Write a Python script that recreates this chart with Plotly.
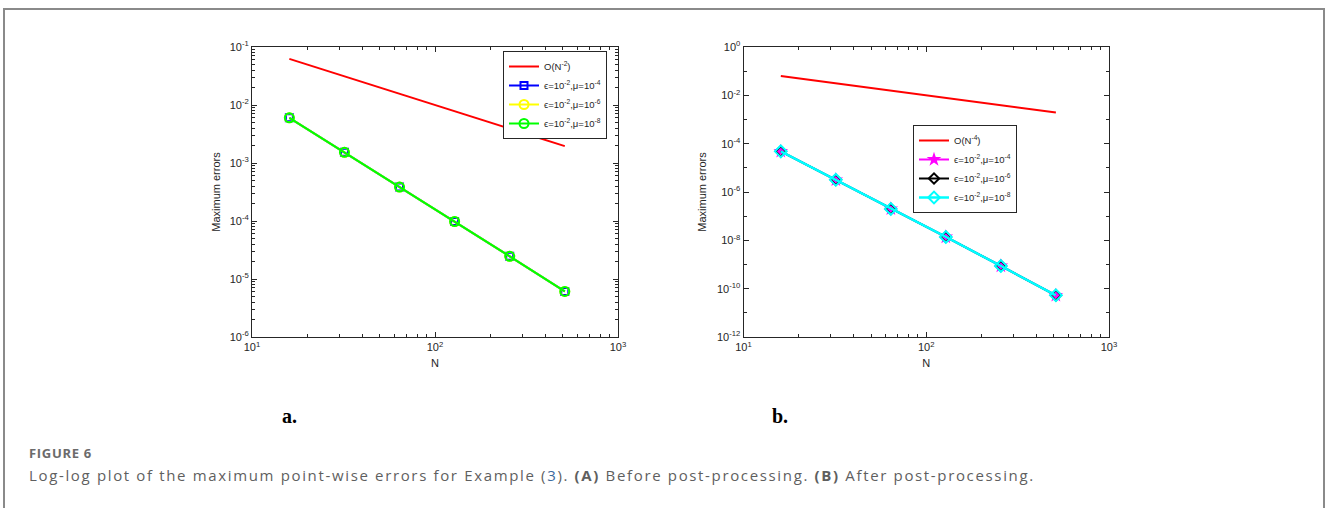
import plotly.graph_objects as go

# ---- data ----
N = [16, 32, 64, 128, 256, 512]
ref_a = [0.0625, 0.03125, 0.015625, 0.0078125, 0.00390625, 0.001953]
err_a_mu4 = [6.0e-3, 1.53e-3, 3.85e-4, 9.8e-5, 2.46e-5, 6.1e-6]
err_a_mu6 = [6.0e-3, 1.53e-3, 3.85e-4, 9.8e-5, 2.46e-5, 6.1e-6]
err_a_mu8 = [6.0e-3, 1.53e-3, 3.85e-4, 9.8e-5, 2.46e-5, 6.1e-6]
ref_b = [0.0625, 0.03125, 0.015625, 0.0078125, 0.00390625, 0.001953]
err_b_mu4 = [4.8e-5, 3.2e-6, 2.0e-7, 1.38e-8, 8.7e-10, 5.3e-11]
err_b_mu6 = [4.8e-5, 3.2e-6, 2.0e-7, 1.38e-8, 8.7e-10, 5.3e-11]
err_b_mu8 = [4.8e-5, 3.2e-6, 2.0e-7, 1.38e-8, 8.7e-10, 5.3e-11]

x_exps = [1, 2, 3]
ya_exps = [-6, -5, -4, -3, -2, -1]
yb_exps = [-12, -10, -8, -6, -4, -2, 0]

names_a = ["O(N<sup>-2</sup>)", "ϵ=10<sup>-2</sup>,μ=10<sup>-4</sup>",
           "ϵ=10<sup>-2</sup>,μ=10<sup>-6</sup>", "ϵ=10<sup>-2</sup>,μ=10<sup>-8</sup>"]
names_b = ["O(N<sup>-4</sup>)", "ϵ=10<sup>-2</sup>,μ=10<sup>-4</sup>",
           "ϵ=10<sup>-2</sup>,μ=10<sup>-6</sup>", "ϵ=10<sup>-2</sup>,μ=10<sup>-8</sup>"]

W, H = 1327, 508

fig = go.Figure()

# panel a
fig.add_trace(go.Scatter(x=N, y=ref_a, mode="lines", name=names_a[0],
                         line=dict(color="#ff0000", width=2), xaxis="x", yaxis="y", legend="legend"))
fig.add_trace(go.Scatter(x=N, y=err_a_mu4, mode="lines+markers", name=names_a[1],
                         line=dict(color="#0000ff", width=2),
                         marker=dict(symbol="square-open", size=7, color="#0000ff", line=dict(width=2)),
                         xaxis="x", yaxis="y", legend="legend"))
fig.add_trace(go.Scatter(x=N, y=err_a_mu6, mode="lines+markers", name=names_a[2],
                         line=dict(color="#ffff00", width=2),
                         marker=dict(symbol="circle-open", size=9, color="#ffff00", line=dict(width=2)),
                         xaxis="x", yaxis="y", legend="legend"))
fig.add_trace(go.Scatter(x=N, y=err_a_mu8, mode="lines+markers", name=names_a[3],
                         line=dict(color="#00ff00", width=2),
                         marker=dict(symbol="circle-open", size=9, color="#00ff00", line=dict(width=2)),
                         xaxis="x", yaxis="y", legend="legend"))

# panel b
fig.add_trace(go.Scatter(x=N, y=ref_b, mode="lines", name=names_b[0],
                         line=dict(color="#ff0000", width=2), xaxis="x2", yaxis="y2", legend="legend2"))
fig.add_trace(go.Scatter(x=N, y=err_b_mu4, mode="lines+markers", name=names_b[1],
                         line=dict(color="#ff00ff", width=2),
                         marker=dict(symbol="star", size=11, color="#ff00ff"),
                         xaxis="x2", yaxis="y2", legend="legend2"))
fig.add_trace(go.Scatter(x=N, y=err_b_mu6, mode="lines+markers", name=names_b[2],
                         line=dict(color="#000000", width=2),
                         marker=dict(symbol="diamond-open", size=8, color="#000000", line=dict(width=2)),
                         xaxis="x2", yaxis="y2", legend="legend2"))
fig.add_trace(go.Scatter(x=N, y=err_b_mu8, mode="lines+markers", name=names_b[3],
                         line=dict(color="#00ffff", width=2.5),
                         marker=dict(symbol="diamond-open", size=9, color="#00ffff", line=dict(width=2)),
                         xaxis="x2", yaxis="y2", legend="legend2"))


def minor_vals(lo, hi):
    vals = []
    for e in range(lo, hi):
        for m in range(2, 10):
            vals.append(m * 10 ** e)
    return vals


def pow_ticks(exps):
    return [10.0 ** e for e in exps], [f"10<sup>{e}</sup>" for e in exps]


tickfont = dict(family="Liberation Sans, Arial", size=11, color="#262626")
titlefont = dict(family="Liberation Sans, Arial", size=11, color="#262626")
common = dict(type="log", showline=True, linecolor="#262626", linewidth=1, mirror="ticks",
              ticks="inside", ticklen=5, tickcolor="#262626", showgrid=False, zeroline=False,
              tickfont=tickfont, tickmode="array", automargin=False)

ax_a = [252 / W, 618 / W]
ax_b = [743.5 / W, 1109 / W]
ydom = [1 - 337 / H, 1 - 47 / H]

xv, xt = pow_ticks(x_exps)
yav, yat = pow_ticks(ya_exps)
ybv, ybt = pow_ticks(yb_exps)

legfont = dict(family="Liberation Sans, Arial", size=9.5, color="#262626")

fig.update_layout(
    width=W, height=H,
    margin=dict(l=0, r=0, t=0, b=0, pad=0, autoexpand=False),
    paper_bgcolor="white", plot_bgcolor="white",
    xaxis=dict(domain=ax_a, range=[1, 3], tickvals=xv, ticktext=xt, anchor="y",
               minor=dict(ticks="inside", ticklen=3, tickcolor="#262626", tickvals=minor_vals(1, 3)),
               title=dict(text="N", font=titlefont, standoff=7), **common),
    yaxis=dict(domain=ydom, range=[-6, -1], tickvals=yav, ticktext=yat, anchor="x",
               minor=dict(ticks="inside", ticklen=3, tickcolor="#262626", tickvals=minor_vals(-6, -1)),
               title=dict(text="Maximum errors", font=titlefont, standoff=6), **common),
    xaxis2=dict(domain=ax_b, range=[1, 3], tickvals=xv, ticktext=xt, anchor="y2",
                minor=dict(ticks="inside", ticklen=3, tickcolor="#262626", tickvals=minor_vals(1, 3)),
                title=dict(text="N", font=titlefont, standoff=7), **common),
    yaxis2=dict(domain=ydom, range=[-12, 0], tickvals=ybv, ticktext=ybt, anchor="x2",
                minor=dict(ticks="inside", ticklen=3, tickcolor="#262626",
                           tickvals=[10.0 ** e for e in range(-11, 0, 2)]),
                title=dict(text="Maximum errors", font=titlefont, standoff=8), **common),
    legend=dict(x=503 / W, y=1 - 51 / H, xanchor="left", yanchor="top",
                bgcolor="white", bordercolor="#262626", borderwidth=1,
                font=legfont, tracegroupgap=0, itemwidth=30),
    legend2=dict(x=913 / W, y=1 - 125 / H, xanchor="left", yanchor="top",
                 bgcolor="white", bordercolor="#262626", borderwidth=1,
                 font=legfont, tracegroupgap=0, itemwidth=30),
    showlegend=True,
)

# panel labels and caption
fig.add_annotation(x=289 / W, y=1 - 416 / H, xref="paper", yref="paper", text="<b>a.</b>",
                   xanchor="center", yanchor="middle", showarrow=False,
                   font=dict(family="Liberation Serif, Times New Roman", size=20, color="black"))
fig.add_annotation(x=780 / W, y=1 - 416 / H, xref="paper", yref="paper", text="<b>b.</b>",
                   xanchor="center", yanchor="middle", showarrow=False,
                   font=dict(family="Liberation Serif, Times New Roman", size=20, color="black"))
fig.add_annotation(x=27 / W, y=1 - 453 / H, xref="paper", yref="paper", text="<b>FIGURE 6</b>",
                   xanchor="left", yanchor="middle", align="left", showarrow=False,
                   font=dict(family="Open Sans", size=13, color="#6b6b6b"))
fig.add_annotation(x=27 / W, y=1 - 475 / H, xref="paper", yref="paper",
                   text="Log-log plot of the maximum point-wise errors for Example (<span style='color:#3d6a9e'>3</span>). "
                        "<b>(A)</b> Before post-processing. <b>(B)</b> After post-processing.",
                   xanchor="left", yanchor="middle", align="left", showarrow=False,
                   font=dict(family="Open Sans", size=15, color="#5f5f5f"))

# outer frame (open at the bottom)
fig.add_shape(type="path", xref="paper", yref="paper",
              path=f"M {4/W},0 L {4/W},{1-9/H} L {1-3/W},{1-9/H} L {1-3/W},0",
              line=dict(color="#8a8a8a", width=2))

post = """
document.documentElement.style.margin='0';
document.documentElement.style.overflow='hidden';
document.body.style.margin='0';
document.body.style.overflow='hidden';
var gd = document.getElementsByClassName('plotly-graph-div')[0];
gd.style.position='fixed'; gd.style.left='0px'; gd.style.top='0px';
gd.querySelectorAll('.annotation-text').forEach(function(e){
  var t = e.textContent;
  if (t.indexOf('Log-log') === 0) { e.style.letterSpacing = '1.65px'; }
  if (t.indexOf('FIGURE') === 0) { e.style.letterSpacing = '0.7px'; }
});
"""

fig.write_html("out.html", config={"displayModeBar": False}, post_script=post)
